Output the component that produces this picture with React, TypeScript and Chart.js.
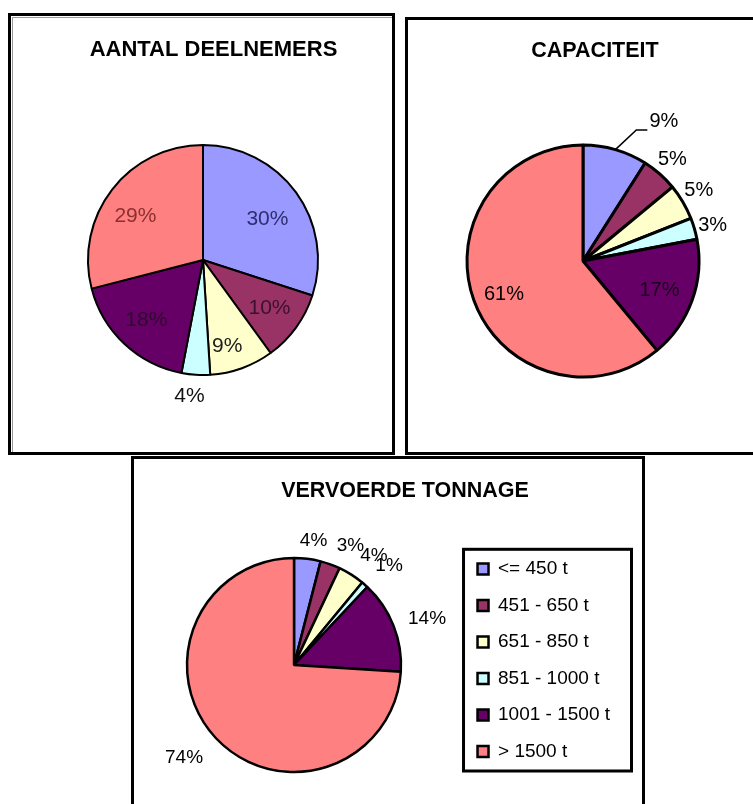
import React, { useEffect, useRef } from 'react';
import { Chart, registerables } from 'chart.js';

Chart.register(...registerables);

const FONT = '"Liberation Sans", Arial, sans-serif';
Chart.defaults.font.family = FONT;

// ---- data ----
const categories = ['<= 450 t', '451 - 650 t', '651 - 850 t', '851 - 1000 t', '1001 - 1500 t', '> 1500 t'];
const sliceColors = ['#9999FF', '#993366', '#FFFFCC', '#CCFFFF', '#660066', '#FF8080'];
const deelnemersPct = [30, 10, 9, 4, 18, 29];
const capaciteitPct = [9, 5, 5, 3, 17, 61];
const tonnagePct = [4, 3, 4, 1, 14, 74];
const chartTitles = ['AANTAL DEELNEMERS', 'CAPACITEIT', 'VERVOERDE TONNAGE'];

// ---- plugins ----
const panelTitle = {
  id: 'panelTitle',
  afterDraw(chart: any, _args: any, opts: any) {
    const ctx = chart.ctx;
    ctx.save();
    ctx.font = `bold ${opts.size}px ${FONT}`;
    ctx.fillStyle = '#000';
    ctx.textAlign = 'center';
    ctx.textBaseline = 'middle';
    ctx.fillText(opts.text, opts.x, opts.y);
    ctx.restore();
  },
};

const pctLabels = {
  id: 'pctLabels',
  afterDatasetsDraw(chart: any, _args: any, opts: any) {
    const meta = chart.getDatasetMeta(0);
    const values = chart.data.datasets[0].data;
    const ctx = chart.ctx;
    ctx.save();
    ctx.font = `${opts.size}px ${FONT}`;
    ctx.textAlign = 'center';
    ctx.textBaseline = 'middle';
    meta.data.forEach((arc: any, i: number) => {
      const { x, y, startAngle, endAngle, outerRadius } = arc.getProps(
        ['x', 'y', 'startAngle', 'endAngle', 'outerRadius'],
        true
      );
      const mid = (startAngle + endAngle) / 2;
      const [f, dx, dy] = opts.place[i];
      const lx = x + Math.cos(mid) * outerRadius * f + dx;
      const ly = y + Math.sin(mid) * outerRadius * f + dy;
      if (opts.leader && opts.leader[i]) {
        ctx.beginPath();
        ctx.strokeStyle = '#000';
        ctx.lineWidth = 1.5;
        ctx.moveTo(x + Math.cos(mid) * outerRadius, y + Math.sin(mid) * outerRadius);
        ctx.lineTo(lx - 27.5, ly + 8);
        ctx.lineTo(lx - 16.5, ly + 8);
        ctx.stroke();
      }
      ctx.fillStyle = opts.colors ? opts.colors[i] : '#000';
      ctx.fillText(values[i] + '%', lx, ly);
    });
    ctx.restore();
  },
};

const legendFrame = {
  id: 'legendFrame',
  afterDraw(chart: any) {
    const lg = chart.legend;
    if (!lg || !lg.options.display || !lg.legendHitBoxes || !lg.legendHitBoxes.length) return;
    const hb = lg.legendHitBoxes;
    const left = Math.min(...hb.map((h: any) => h.left)) - 14;
    const top = hb[0].top - 10.2;
    const right = Math.max(...hb.map((h: any) => h.left + h.width)) + 21.5;
    const last = hb[hb.length - 1];
    const bottom = last.top + last.height + 10;
    const ctx = chart.ctx;
    ctx.save();
    ctx.lineWidth = 3;
    ctx.strokeStyle = '#000';
    ctx.strokeRect(left, top, right - left, bottom - top);
    ctx.restore();
  },
};

function makeConfig(values: number[], o: any): any {
  return {
    type: 'pie',
    data: {
      labels: categories,
      datasets: [
        {
          data: values,
          backgroundColor: sliceColors,
          borderColor: '#000',
          borderWidth: o.border,
          radius: o.radius,
          clip: false,
        },
      ],
    },
    options: {
      responsive: false,
      animation: false,
      events: [],
      layout: { padding: o.padding },
      plugins: {
        title: { display: false },
        tooltip: { enabled: false },
        legend: o.legend
          ? {
              display: true,
              position: 'right',
              align: 'start',
              labels: {
                boxWidth: 11,
                boxHeight: 11,
                padding: 17.5,
                color: '#000',
                font: { size: 19, family: FONT },
              },
            }
          : { display: false },
        panelTitle: o.title,
        pctLabels: o.labels,
      },
    },
    plugins: [panelTitle, pctLabels, legendFrame],
  };
}

const configs = [
  makeConfig(deelnemersPct, {
    border: 2,
    radius: 115,
    padding: { left: 78, right: 425, top: 135, bottom: 419 },
    title: { text: chartTitles[0], x: 213.5, y: 50, size: 22 },
    labels: {
      size: 21,
      place: [
        [0.66, 3, 4],
        [0.715, 0, 0],
        [0.774, -6, 2],
        [1.19, -5, 0],
        [0.72, 0, 0],
        [0.7, -4, 5.5],
      ],
      colors: ['#2e2e6e', '#3b1030', '#1e1e1e', '#111111', '#2e0a2e', '#8a3030'],
    },
  }),
  makeConfig(capaciteitPct, {
    border: 3,
    radius: 116,
    padding: { left: 458, right: 45, top: 136, bottom: 418 },
    title: { text: chartTitles[1], x: 595, y: 51.5, size: 21.5 },
    labels: {
      size: 20,
      place: [
        [1.2, 42, -5.4],
        [1.166, 0, 0],
        [1.17, -1, -1.4],
        [1.157, 0.7, 1.9],
        [0.707, -0.7, 1.7],
        [0.74, 1.7, 4.9],
      ],
      leader: [true, false, false, false, false, false],
      colors: ['#000', '#000', '#000', '#000', '#1a001a', '#000'],
    },
  }),
  makeConfig(tonnagePct, {
    border: 2.5,
    radius: 107,
    legend: true,
    padding: { left: 128, right: 133, top: 542, bottom: 16 },
    title: { text: chartTitles[2], x: 405, y: 491, size: 21.5 },
    labels: {
      size: 19,
      place: [
        [1.177, 3.8, 0.4],
        [1.23, 11.9, 4.3],
        [1.265, 7.5, 4.7],
        [1.284, 4.2, 3.6],
        [1.316, 2.1, 5.3],
        [1.341, -5.4, -5.7],
      ],
    },
  }),
];

function PieCanvas({ config }: { config: any }) {
  const ref = useRef<HTMLCanvasElement | null>(null);
  useEffect(() => {
    if (!ref.current) return;
    const chart = new Chart(ref.current, config);
    return () => chart.destroy();
  }, [config]);
  return (
    <canvas
      ref={ref}
      width={753}
      height={804}
      style={{ position: 'absolute', left: 0, top: 0, width: 753, height: 804 }}
    />
  );
}

export default function App() {
  return (
    <div
      style={{
        position: 'absolute',
        left: 0,
        top: 0,
        width: 753,
        height: 804,
        overflow: 'hidden',
        background: '#fff',
      }}
    >
      {/* panel frames */}
      <div
        style={{
          position: 'absolute',
          left: 8,
          top: 13,
          width: 387,
          height: 442,
          boxSizing: 'border-box',
          border: '3px solid #000',
        }}
      />
      <div
        style={{
          position: 'absolute',
          left: 12,
          top: 17,
          width: 380,
          height: 435,
          boxSizing: 'border-box',
          borderLeft: '1px solid #9a9a9a',
          borderTop: '1px solid #9a9a9a',
        }}
      />
      <div
        style={{
          position: 'absolute',
          left: 405,
          top: 17,
          width: 420,
          height: 438,
          boxSizing: 'border-box',
          border: '3px solid #000',
        }}
      />
      <div
        style={{
          position: 'absolute',
          left: 131,
          top: 456,
          width: 514,
          height: 420,
          boxSizing: 'border-box',
          border: '3px solid #000',
        }}
      />
      {configs.map((c, i) => (
        <PieCanvas key={i} config={c} />
      ))}
    </div>
  );
}
